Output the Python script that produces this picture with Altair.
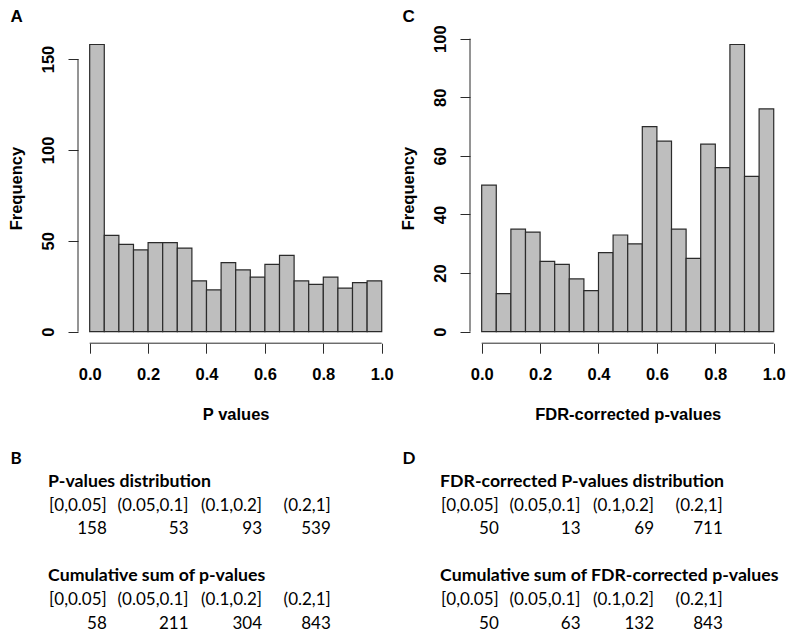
import altair as alt
import pandas as pd

# ---------------- data ----------------
bin_start = [0.00, 0.05, 0.10, 0.15, 0.20, 0.25, 0.30, 0.35, 0.40, 0.45,
             0.50, 0.55, 0.60, 0.65, 0.70, 0.75, 0.80, 0.85, 0.90, 0.95]
bin_end = [0.05, 0.10, 0.15, 0.20, 0.25, 0.30, 0.35, 0.40, 0.45, 0.50,
           0.55, 0.60, 0.65, 0.70, 0.75, 0.80, 0.85, 0.90, 0.95, 1.00]
p_counts = [158, 53, 48, 45, 49, 49, 46, 28, 23, 38,
            34, 30, 37, 42, 28, 26, 30, 24, 27, 28]
fdr_counts = [50, 13, 35, 34, 24, 23, 18, 14, 27, 33,
              30, 70, 65, 35, 25, 64, 56, 98, 53, 76]

x_ticks = [0.0, 0.2, 0.4, 0.6, 0.8, 1.0]
p_yticks = [0, 50, 100, 150]
fdr_yticks = [0, 20, 40, 60, 80, 100]

interval_labels = ["[0,0.05]", "(0.05,0.1]", "(0.1,0.2]", "(0.2,1]"]
p_dist = [158, 53, 93, 539]
p_cum = [58, 211, 304, 843]
fdr_dist = [50, 13, 69, 711]
fdr_cum = [50, 63, 132, 843]

# ---------------- style ----------------
W = 315.4
H = 310.2
HT = 165.0
AXF = "Liberation Sans"
TXF = "Lato"
AXS = 16.5
LINE = "#2b2b2b"


def hist(counts, yticks, ydom, xtitle, letter):
    df = pd.DataFrame({"start": bin_start, "end": bin_end, "count": counts})
    xs = alt.Scale(domain=[-0.04, 1.04], nice=False, zero=False)
    ys = alt.Scale(domain=ydom, nice=False, zero=False)
    bars = alt.Chart(df).mark_bar(
        fill="#bebebe", stroke=LINE, strokeWidth=1.2
    ).encode(
        x=alt.X("start:Q", scale=xs, axis=alt.Axis(
            values=x_ticks, format=".1f", domain=False, grid=False,
            tickSize=10, tickColor=LINE, tickWidth=1,
            labelFont=AXF, labelFontWeight="bold", labelFontSize=AXS,
            labelColor="black", labelBaseline="alphabetic", labelPadding=26.2,
            labelFlush=False, labelOverlap=False,
            title=xtitle, titleFont=AXF, titleFontWeight="bold",
            titleFontSize=AXS, titleColor="black", titleY=76.2,
            titleBaseline="alphabetic")),
        x2="end:Q",
        y=alt.Y("count:Q", scale=ys, axis=alt.Axis(
            values=yticks, format="d", domain=False, grid=False,
            tickSize=10, tickColor=LINE, tickWidth=1,
            labelFont=AXF, labelFontWeight="bold", labelFontSize=AXS,
            labelColor="black", labelAngle=270, labelAlign="center",
            labelBaseline="alphabetic", labelPadding=14.8,
            labelFlush=False, labelOverlap=False,
            title="Frequency", titleFont=AXF, titleFontWeight="bold",
            titleFontSize=AXS, titleColor="black", titleAngle=270,
            titleAlign="center", titleBaseline="alphabetic",
            titleX=-56.3, titleY=H / 2)),
        y2=alt.datum(0),
    )
    one = pd.DataFrame({"k": [0]})
    xline = alt.Chart(one).mark_rule(color=LINE, strokeWidth=1).encode(
        x=alt.datum(x_ticks[0]), x2=alt.datum(x_ticks[-1]), y=alt.value(H))
    yline = alt.Chart(one).mark_rule(color=LINE, strokeWidth=1).encode(
        y=alt.datum(yticks[0]), y2=alt.datum(yticks[-1]), x=alt.value(0))
    lab = alt.Chart(one).mark_text(
        text=letter, align="left", baseline="alphabetic", font=AXF,
        fontWeight="bold", fontSize=17, color="black"
    ).encode(x=alt.value(-67.5), y=alt.value(-10.9))
    return alt.layer(bars, xline, yline, lab).properties(width=W, height=H)


def table(letter, title1, vals1, title2, vals2):
    rows = [dict(line=-1, col=1, text=letter, kind="letter"),
            dict(line=0, col=1, text=title1, kind="title"),
            dict(line=4, col=1, text=title2, kind="title")]
    for i, lab in enumerate(interval_labels):
        rows.append(dict(line=1, col=i + 1, text=lab, kind="cell"))
        rows.append(dict(line=2, col=i + 1, text=str(vals1[i]), kind="cell"))
        rows.append(dict(line=5, col=i + 1, text=lab, kind="cell"))
        rows.append(dict(line=6, col=i + 1, text=str(vals2[i]), kind="cell"))
    df = pd.DataFrame(rows)
    # right-aligned "tab stops" of the pasted table (proportional font)
    xs = alt.Scale(type="pow", exponent=0.8, domain=[1, 4], range=[28.8, 252.8])
    ys = alt.Scale(domain=[-1, 6], nice=False, zero=False, reverse=True)
    base = alt.Chart(df)
    cells = base.transform_filter(alt.datum.kind == "cell").mark_text(
        align="right", baseline="alphabetic", font=TXF, fontSize=17,
        color="black"
    ).encode(
        x=alt.X("col:Q", scale=xs, axis=None),
        y=alt.Y("line:Q", scale=ys, axis=None),
        text="text:N")
    titles = base.transform_filter(alt.datum.kind == "title").mark_text(
        align="left", baseline="alphabetic", font=TXF, fontSize=17.7,
        fontWeight="bold", color="black"
    ).encode(
        x=alt.value(-29.9),
        y=alt.Y("line:Q", scale=ys, axis=None),
        text="text:N")
    letters = base.transform_filter(alt.datum.kind == "letter").mark_text(
        align="left", baseline="alphabetic", font=TXF, fontSize=17,
        fontWeight="bold", color="black"
    ).encode(
        x=alt.value(-67.5),
        y=alt.Y("line:Q", scale=ys, axis=None),
        text="text:N")
    return alt.layer(cells, titles, letters).properties(width=W, height=HT)


histA = hist(p_counts, p_yticks, [-6.32, 164.32], "P values", "A")
histC = hist(fdr_counts, fdr_yticks, [-3.92, 101.92], "FDR-corrected p-values", "C")
tabB = table("B", "P-values distribution", p_dist,
             "Cumulative sum of p-values", p_cum)
tabD = table("D", "FDR-corrected P-values distribution", fdr_dist,
             "Cumulative sum of FDR-corrected p-values", fdr_cum)

chart = alt.concat(
    histA, histC, tabB, tabD, columns=2,
    spacing={"row": 119.5, "column": 76},
    bounds="flush", padding=0, background="white",
).configure_view(stroke=None)

chart.save("out.html", embed_options={"renderer": "svg", "actions": False})
